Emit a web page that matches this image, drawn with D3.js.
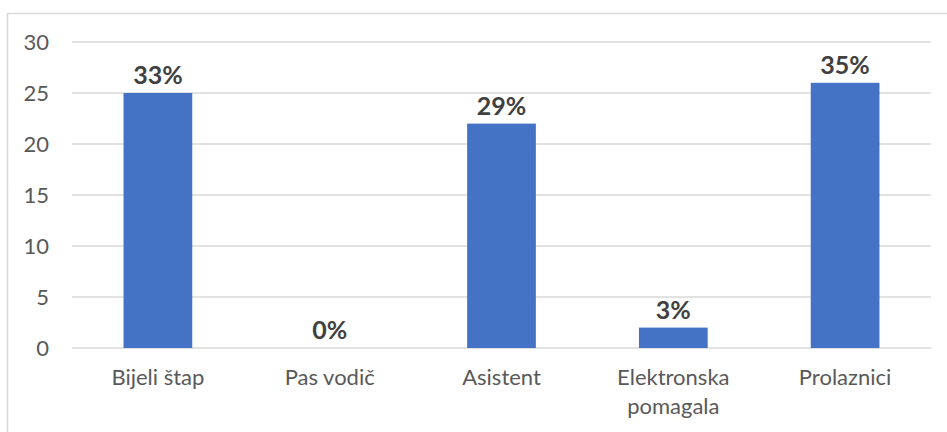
<!DOCTYPE html>
<html>
<head>
<meta charset="utf-8">
<script src="https://cdn.jsdelivr.net/npm/d3@7"></script>
<style>
  body { margin: 0; background: #fff; }
</style>
</head>
<body>
<div id="chart"></div>
<script>
var categories = ["Bijeli štap", "Pas vodič", "Asistent", "Elektronska pomagala", "Prolaznici"];
var values = [25, 0, 22, 2, 26];
var labels = ["33%", "0%", "29%", "3%", "35%"];
var yTicks = [0, 5, 10, 15, 20, 25, 30];

var width = 947, height = 432;
var margin = {top: 42, right: 16, bottom: 84, left: 72};
var w = width - margin.left - margin.right,
    h = height - margin.top - margin.bottom;

var svg = d3.select("#chart").append("svg")
    .attr("width", width)
    .attr("height", height);

// chart frame
svg.append("rect")
    .attr("x", 7.5).attr("y", 13.5)
    .attr("width", 960).attr("height", 440)
    .attr("fill", "none")
    .attr("stroke", "#d9d9d9")
    .attr("stroke-width", 1.5);

var g = svg.append("g")
    .attr("transform", "translate(" + margin.left + "," + margin.top + ")");

var x = d3.scaleBand()
    .domain(categories)
    .range([0, w])
    .paddingInner(0.6)
    .paddingOuter(0.3);

var y = d3.scaleLinear()
    .domain([0, 30])
    .range([h, 0]);

// gridlines
g.selectAll("line.grid")
    .data(yTicks)
    .enter()
    .append("line")
    .attr("class", "grid")
    .attr("x1", 0).attr("x2", w)
    .attr("y1", function(d) { return y(d); })
    .attr("y2", function(d) { return y(d); })
    .attr("stroke", "#d9d9d9")
    .attr("stroke-width", 1.5);

// y axis labels
var yAxis = d3.axisLeft(y).tickValues(yTicks).tickSize(0).tickPadding(23);
g.append("g")
    .call(yAxis)
    .call(function(a) { a.select(".domain").remove(); })
    .selectAll("text")
    .attr("fill", "#595959")
    .style("font-family", "Lato, 'Open Sans', sans-serif")
    .style("font-size", "22px");

// bars
g.selectAll("rect.bar")
    .data(values)
    .enter()
    .append("rect")
    .attr("class", "bar")
    .attr("x", function(d, i) { return x(categories[i]); })
    .attr("y", function(d) { return y(d); })
    .attr("width", x.bandwidth())
    .attr("height", function(d) { return h - y(d); })
    .attr("fill", "#4472c4");

// data labels
g.selectAll("text.val")
    .data(values)
    .enter()
    .append("text")
    .attr("class", "val")
    .attr("x", function(d, i) { return x(categories[i]) + x.bandwidth() / 2; })
    .attr("y", function(d) { return y(d) - 9; })
    .attr("text-anchor", "middle")
    .attr("fill", "#404040")
    .style("font-family", "Lato, 'Open Sans', sans-serif")
    .style("font-weight", "bold")
    .style("font-size", "25px")
    .text(function(d, i) { return labels[i]; });

// x axis labels (wrapped)
var xl = g.selectAll("text.cat")
    .data(categories)
    .enter()
    .append("text")
    .attr("class", "cat")
    .attr("x", function(d) { return x(d) + x.bandwidth() / 2; })
    .attr("y", h + 37)
    .attr("text-anchor", "middle")
    .attr("fill", "#595959")
    .style("font-family", "Lato, 'Open Sans', sans-serif")
    .style("font-size", "22px");

xl.each(function(d) {
    var t = d3.select(this);
    var parts = d == "Elektronska pomagala" ? ["Elektronska", "pomagala"] : [d];
    parts.forEach(function(p, k) {
        t.append("tspan")
            .attr("x", t.attr("x"))
            .attr("dy", k == 0 ? 0 : 29)
            .text(p);
    });
});
</script>
</body>
</html>
